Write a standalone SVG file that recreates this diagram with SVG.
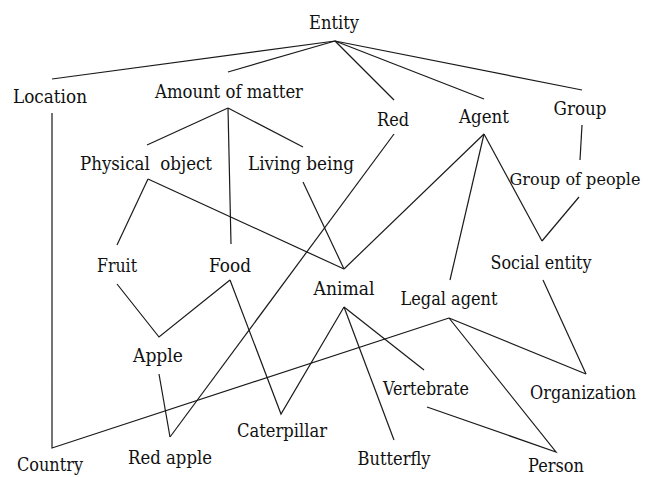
<svg xmlns="http://www.w3.org/2000/svg" width="648" height="477" viewBox="0 0 648 477">
<style>
.c line,.c polyline{stroke:#1a1a1a;stroke-width:1.2;fill:none}
.t{font-family:"DejaVu Serif","Liberation Serif",serif;font-size:18px;fill:#111;text-anchor:middle}
</style>
<rect width="648" height="477" fill="#fff"/>
<g class="c" id="connectors">
<line x1="335" y1="41" x2="52" y2="79"/>
<line x1="335" y1="41" x2="228" y2="72"/>
<line x1="335" y1="41" x2="394" y2="100"/>
<line x1="335" y1="41" x2="484" y2="99"/>
<line x1="335" y1="41" x2="582" y2="90"/>
<line x1="228" y1="108" x2="147" y2="145"/>
<line x1="228" y1="108" x2="231" y2="244"/>
<line x1="228" y1="108" x2="303" y2="147"/>
<polyline points="52,113 52,448 449,318"/>
<line x1="148" y1="179" x2="117" y2="245"/>
<line x1="148" y1="179" x2="344" y2="269"/>
<line x1="303" y1="182" x2="344" y2="269"/>
<line x1="484" y1="134" x2="344" y2="269"/>
<line x1="484" y1="134" x2="450" y2="280"/>
<line x1="484" y1="134" x2="542" y2="241"/>
<line x1="579" y1="197" x2="542" y2="241"/>
<line x1="582" y1="125" x2="580" y2="160"/>
<line x1="394" y1="134" x2="170" y2="437"/>
<polyline points="117,284 159,337 230,280"/>
<line x1="159" y1="374" x2="170" y2="437"/>
<polyline points="230,280 281,414 344,307"/>
<line x1="344" y1="307" x2="394" y2="440"/>
<line x1="344" y1="307" x2="424" y2="370"/>
<line x1="543" y1="280" x2="586" y2="374"/>
<line x1="449" y1="318" x2="586" y2="374"/>
<polyline points="449,318 556,452 427,407"/>
</g>
<g class="t">
<g id="entity"><text x="334" y="29" textLength="50" lengthAdjust="spacingAndGlyphs">Entity</text></g>
<g id="location"><text x="50" y="103" textLength="74" lengthAdjust="spacingAndGlyphs">Location</text></g>
<g id="amount"><text x="229" y="98" textLength="148" lengthAdjust="spacingAndGlyphs">Amount of matter</text></g>
<g id="red"><text x="393" y="126" textLength="32" lengthAdjust="spacingAndGlyphs">Red</text></g>
<g id="agent"><text x="484" y="123" textLength="50" lengthAdjust="spacingAndGlyphs">Agent</text></g>
<g id="group"><text x="580" y="115" textLength="53" lengthAdjust="spacingAndGlyphs">Group</text></g>
<g id="physical"><text x="146" y="170" textLength="132" lengthAdjust="spacingAndGlyphs" xml:space="preserve">Physical  object</text></g>
<g id="living"><text x="301" y="170" textLength="106" lengthAdjust="spacingAndGlyphs">Living being</text></g>
<g id="groupofpeople"><text x="575" y="185" font-size="17" textLength="131" lengthAdjust="spacingAndGlyphs">Group of people</text></g>
<g id="fruit"><text x="117" y="272" textLength="40" lengthAdjust="spacingAndGlyphs">Fruit</text></g>
<g id="food"><text x="230" y="272" textLength="42" lengthAdjust="spacingAndGlyphs">Food</text></g>
<g id="social"><text x="541" y="269" textLength="101" lengthAdjust="spacingAndGlyphs">Social entity</text></g>
<g id="animal"><text x="344" y="295" textLength="61" lengthAdjust="spacingAndGlyphs">Animal</text></g>
<g id="legal"><text x="449" y="305" textLength="97" lengthAdjust="spacingAndGlyphs">Legal agent</text></g>
<g id="apple"><text x="158" y="362" textLength="50" lengthAdjust="spacingAndGlyphs">Apple</text></g>
<g id="vertebrate"><text x="426" y="395" textLength="86" lengthAdjust="spacingAndGlyphs">Vertebrate</text></g>
<g id="organization"><text x="583" y="399" textLength="106" lengthAdjust="spacingAndGlyphs">Organization</text></g>
<g id="caterpillar"><text x="282" y="437" textLength="90" lengthAdjust="spacingAndGlyphs">Caterpillar</text></g>
<g id="redapple"><text x="170" y="464" textLength="84" lengthAdjust="spacingAndGlyphs">Red apple</text></g>
<g id="butterfly"><text x="394" y="465" textLength="73" lengthAdjust="spacingAndGlyphs">Butterfly</text></g>
<g id="country"><text x="50" y="471" textLength="66" lengthAdjust="spacingAndGlyphs">Country</text></g>
<g id="person"><text x="556" y="472" textLength="56" lengthAdjust="spacingAndGlyphs">Person</text></g>
</g>
</svg>
